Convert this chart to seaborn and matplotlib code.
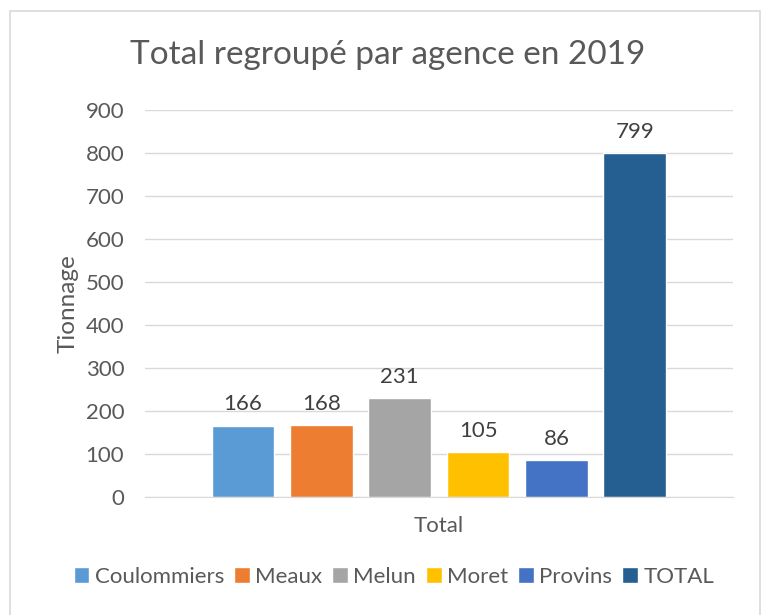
import matplotlib
matplotlib.use("Agg")
import matplotlib.pyplot as plt
from matplotlib.patches import Rectangle
import seaborn as sns
import pandas as pd

agences = ["Coulommiers", "Meaux", "Melun", "Moret", "Provins", "TOTAL"]
tonnages = [166, 168, 231, 105, 86, 799]
couleurs = ["#5B9BD5", "#ED7D31", "#A5A5A5", "#FFC000", "#4472C4", "#255E91"]
categorie = "Total"

df = pd.DataFrame({"cat": [categorie] * len(agences), "agence": agences, "val": tonnages})

sns.set_style("white")
plt.rcParams["font.family"] = ["Lato", "DejaVu Sans"]
gris = "#595959"

fig = plt.figure(figsize=(7.68, 6.15), dpi=100)
ax = fig.add_axes([0.189, 0.192, 0.765, 0.629])

sns.barplot(data=df, x="cat", y="val", hue="agence", palette=couleurs,
            width=0.8, gap=0.2, ax=ax, saturation=1, legend=True)

for c in ax.containers:
    ax.bar_label(c, padding=8, fontsize=16, color="#404040")

ax.set_ylim(0, 900)
ax.set_yticks(range(0, 901, 100))
ax.tick_params(axis="y", labelsize=16, labelcolor=gris, length=0, pad=15)
ax.tick_params(axis="x", length=0, labelsize=16, labelcolor=gris)
ax.set_xticklabels([""])
ax.set_xlabel("Total", fontsize=16, color=gris, labelpad=10)
ax.set_ylabel("Tionnage", fontsize=17.5, color=gris, labelpad=5)
ax.yaxis.grid(True, color="#D9D9D9", linewidth=1)
ax.set_axisbelow(True)
for s in ["top", "right", "left"]:
    ax.spines[s].set_visible(False)
ax.spines["bottom"].set_color("#D9D9D9")

fig.text(0.505, 0.911, "Total regroupé par agence en 2019", ha="center", va="center",
         fontsize=24, color=gris)

handles, labels = ax.get_legend_handles_labels()
ax.get_legend().remove()
fig.legend(handles, labels, loc="center", bbox_to_anchor=(0.513, 0.062), ncol=6,
           frameon=False, fontsize=16, labelcolor=gris, handlelength=0.7,
           handleheight=0.7, handletextpad=0.25, columnspacing=0.45)

fig.patches.append(Rectangle((10 / 768, -0.01), 750 / 768, 1 - 11 / 615 + 0.01,
                             transform=fig.transFigure, fill=False,
                             edgecolor="#D9D9D9", linewidth=1.2))

fig.savefig("out.png", dpi=100)
plt.close(fig)
